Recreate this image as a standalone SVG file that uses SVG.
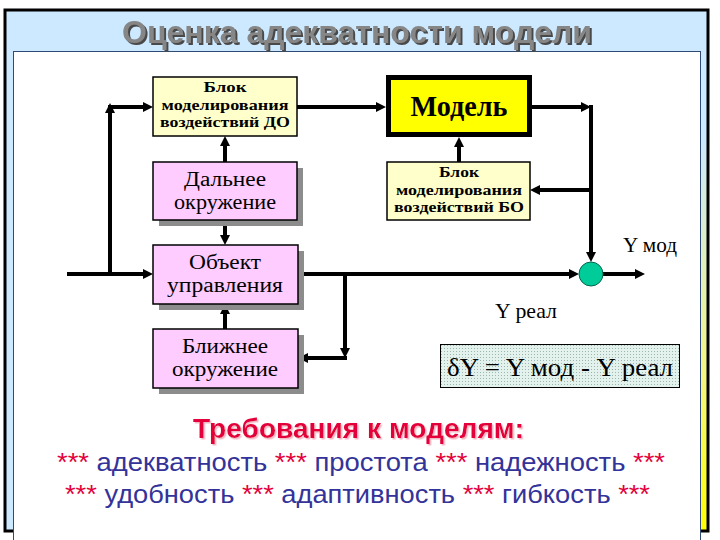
<svg xmlns="http://www.w3.org/2000/svg" width="720" height="540" viewBox="0 0 720 540">
  <defs>
    <linearGradient id="bg" x1="0" y1="0" x2="1" y2="1">
      <stop offset="0" stop-color="#CCE9FF"/>
      <stop offset="0.62" stop-color="#CCE9FF"/>
      <stop offset="0.85" stop-color="#F4F680"/>
      <stop offset="1" stop-color="#FFFF00"/>
    </linearGradient>
    <pattern id="dots" width="3" height="3" patternUnits="userSpaceOnUse">
      <rect width="3" height="3" fill="#E4F2EE"/>
      <rect x="0" y="0" width="1" height="1" fill="#9DB5AF"/>
    </pattern>
    <filter id="tsh" x="-5%" y="-20%" width="110%" height="150%">
      <feDropShadow dx="2" dy="2" stdDeviation="0.4" flood-color="#4A4A4A"/>
    </filter>
    <filter id="rsh" x="-5%" y="-20%" width="110%" height="150%">
      <feDropShadow dx="1.5" dy="1.5" stdDeviation="0.5" flood-color="#F2B8C6"/>
    </filter>
    <marker id="ah" markerUnits="userSpaceOnUse" markerWidth="10" markerHeight="10" refX="2" refY="5" orient="auto">
      <path d="M0,0 L10,5 L0,10 z" fill="#000"/>
    </marker>
    <style>
      .box { stroke: #000; stroke-width: 1.5; }
      .yl { fill: #FFFFCC; }
      .pk { fill: #FFCCFF; }
      .sh { fill: #8C8C8C; }
      .small { font-family: "Liberation Serif", "Times New Roman", serif; font-weight: bold; font-size: 15px; fill: #000; text-anchor: middle; }
      .big { font-family: "Liberation Serif", "Times New Roman", serif; font-size: 20px; fill: #000; text-anchor: middle; }
      .lab { font-family: "Liberation Serif", "Times New Roman", serif; font-size: 22px; fill: #000; }
      .conn line { stroke: #000; stroke-width: 4; fill: none; }
      .arr { marker-end: url(#ah); }
      .req { font-family: "Liberation Sans", Arial, sans-serif; font-size: 26px; text-anchor: middle; fill: #333399; }
      .st { fill: #E3003A; }
    </style>
  </defs>

  <!-- frame -->
  <rect x="5" y="10" width="703" height="521" fill="url(#bg)" stroke="#000" stroke-width="3"/>
  <rect x="13.5" y="51.5" width="687" height="490" fill="#FFFFFF" stroke="#2F4A75" stroke-width="1"/>

  <!-- title -->
  <text id="title" x="357" y="43" font-family="Liberation Sans, Arial, sans-serif" font-weight="bold" font-size="32" text-anchor="middle" fill="#868686" filter="url(#tsh)" textLength="470" lengthAdjust="spacingAndGlyphs">Оценка адекватности модели</text>

  <!-- connectors -->
  <g id="connectors" class="conn">
    <line class="arr" x1="67" y1="274" x2="145" y2="274"/>
    <line class="arr" x1="110" y1="276" x2="110" y2="111"/>
    <line class="arr" x1="108" y1="107" x2="145" y2="107"/>
    <line class="arr" x1="297" y1="107" x2="378" y2="107"/>
    <line class="arr" x1="532" y1="107" x2="583" y2="107"/>
    <line class="arr" x1="591" y1="105" x2="591" y2="254"/>
    <line class="arr" x1="591" y1="190" x2="538" y2="190"/>
    <line class="arr" x1="459" y1="162" x2="459" y2="145"/>
    <line class="arr" x1="225" y1="162" x2="225" y2="144"/>
    <line class="arr" x1="225" y1="220" x2="225" y2="237"/>
    <line class="arr" x1="225" y1="329" x2="225" y2="312"/>
    <line class="arr" x1="298" y1="274" x2="571" y2="274"/>
    <line class="arr" x1="345" y1="274" x2="345" y2="350"/>
    <line class="arr" x1="347" y1="358" x2="306" y2="358"/>
    <line class="arr" x1="603" y1="274" x2="637" y2="274"/>
  </g>

  <!-- nodes -->
  <g id="block-do">
    <rect class="box yl" x="153" y="77" width="144" height="59"/>
    <text class="small" x="225" y="92" textLength="43" lengthAdjust="spacingAndGlyphs">Блок</text>
    <text class="small" x="225" y="110" textLength="127" lengthAdjust="spacingAndGlyphs">моделирования</text>
    <text class="small" x="225" y="127" textLength="130" lengthAdjust="spacingAndGlyphs">воздействий ДО</text>
  </g>

  <g id="model">
    <rect x="388.5" y="77.5" width="141" height="57" fill="#FFFF00" stroke="#000" stroke-width="5"/>
    <text x="459" y="116" font-family="Liberation Serif, Times New Roman, serif" font-weight="bold" font-size="29" text-anchor="middle" textLength="97" lengthAdjust="spacingAndGlyphs">Модель</text>
  </g>

  <g id="far-env">
    <rect class="sh" x="159" y="168" width="144" height="58"/>
    <rect class="box pk" x="153" y="162" width="144" height="58"/>
    <text class="big" x="225" y="186" textLength="82" lengthAdjust="spacingAndGlyphs">Дальнее</text>
    <text class="big" x="225" y="209" textLength="102" lengthAdjust="spacingAndGlyphs">окружение</text>
  </g>

  <g id="block-bo">
    <rect class="box yl" x="387" y="162" width="143" height="58"/>
    <text class="small" x="459" y="177" textLength="40" lengthAdjust="spacingAndGlyphs">Блок</text>
    <text class="small" x="459" y="195" textLength="126" lengthAdjust="spacingAndGlyphs">моделирования</text>
    <text class="small" x="459" y="212" textLength="130" lengthAdjust="spacingAndGlyphs">воздействий БО</text>
  </g>

  <g id="object">
    <rect class="sh" x="159" y="251" width="145" height="59"/>
    <rect class="box pk" x="153" y="245" width="145" height="59"/>
    <text class="big" x="225" y="269" textLength="72" lengthAdjust="spacingAndGlyphs">Объект</text>
    <text class="big" x="225" y="292" textLength="116" lengthAdjust="spacingAndGlyphs">управления</text>
  </g>

  <g id="near-env">
    <rect class="sh" x="159" y="335" width="145" height="59"/>
    <rect class="box pk" x="153" y="329" width="145" height="59"/>
    <text class="big" x="225" y="353" textLength="86" lengthAdjust="spacingAndGlyphs">Ближнее</text>
    <text class="big" x="225" y="376" textLength="106" lengthAdjust="spacingAndGlyphs">окружение</text>
  </g>

  <g id="comparator">
    <circle cx="591" cy="274" r="12" fill="#00CC99" stroke="#00664D" stroke-width="1"/>
  </g>

  <g id="labels">
    <text class="lab" x="623" y="252" textLength="54" lengthAdjust="spacingAndGlyphs">Y мод</text>
    <text class="lab" x="495" y="318" textLength="62" lengthAdjust="spacingAndGlyphs">Y реал</text>
  </g>

  <g id="delta">
    <rect x="440.5" y="344.5" width="239" height="43" fill="url(#dots)" stroke="#000" stroke-width="1"/>
    <text x="560" y="376" font-family="Liberation Serif, Times New Roman, serif" font-size="26" text-anchor="middle" textLength="226" lengthAdjust="spacingAndGlyphs">δY = Y мод - Y реал</text>
  </g>

  <!-- requirements -->
  <g id="requirements">
    <text x="358.5" y="438" font-family="Liberation Sans, Arial, sans-serif" font-weight="bold" font-size="28" text-anchor="middle" fill="#E3003A" filter="url(#rsh)" textLength="331" lengthAdjust="spacingAndGlyphs">Требования к моделям:</text>
    <text class="req" x="361" y="471" textLength="608" lengthAdjust="spacingAndGlyphs"><tspan class="st">***</tspan> адекватность <tspan class="st">***</tspan> простота <tspan class="st">***</tspan> надежность <tspan class="st">***</tspan></text>
    <text class="req" x="357.5" y="503" textLength="585" lengthAdjust="spacingAndGlyphs"><tspan class="st">***</tspan> удобность <tspan class="st">***</tspan> адаптивность <tspan class="st">***</tspan> гибкость <tspan class="st">***</tspan></text>
  </g>
</svg>
